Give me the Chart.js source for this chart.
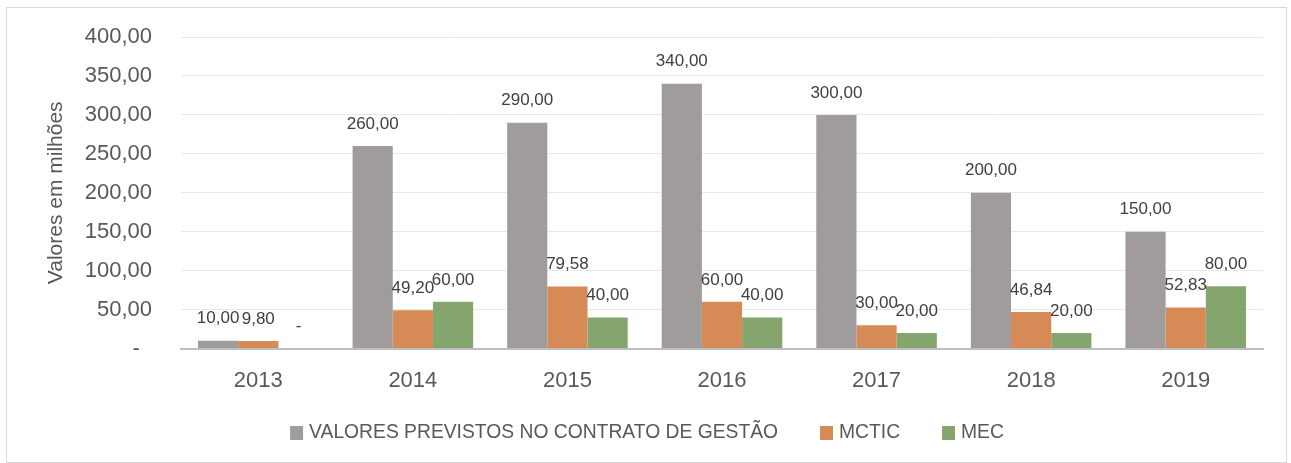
<!DOCTYPE html>
<html>
<head>
<meta charset="utf-8">
<script src="https://cdn.jsdelivr.net/npm/chart.js@4"></script>
<style>
  body { margin: 0; background: #fff; }
  #box {
    position: absolute; left: 6px; top: 7px;
    width: 1281px; height: 456px;
    border: 1px solid #d9d9d9; box-sizing: border-box;
  }
</style>
</head>
<body>
<div id="box"><canvas id="chart" width="1279" height="454"></canvas></div>
<script>
const years = ["2013", "2014", "2015", "2016", "2017", "2018", "2019"];
const previstos = [10, 260, 290, 340, 300, 200, 150];
const mctic = [9.8, 49.2, 79.58, 60, 30, 46.84, 52.83];
const mec = [0, 60, 40, 40, 20, 20, 80];

const FONT = "'Liberation Sans', Arial, sans-serif";
const fmt = (v) => v.toFixed(2).replace(".", ",");

// labels above every bar, excel style
const barLabels = {
  id: "barLabels",
  afterDatasetsDraw(chart) {
    const ctx = chart.ctx;
    ctx.save();
    ctx.font = "17px " + FONT;
    ctx.fillStyle = "#404040";
    ctx.textAlign = "center";
    ctx.textBaseline = "middle";
    chart.data.datasets.forEach((ds, i) => {
      chart.getDatasetMeta(i).data.forEach((bar, j) => {
        const v = ds.data[j];
        const txt = v === 0 ? "-" : fmt(v);
        ctx.fillText(txt, bar.x, bar.y - 22);
      });
    });
    ctx.restore();
  },
};

// legend drawn by hand so the spacing can follow the original
const bottomLegend = {
  id: "bottomLegend",
  afterDraw(chart) {
    const ctx = chart.ctx;
    const y = 425;
    const box = 14;
    const gapText = 6;
    const gapItem = 41;
    ctx.save();
    ctx.font = "19.3px " + FONT;
    ctx.textBaseline = "middle";
    ctx.textAlign = "left";
    const items = chart.data.datasets.map((ds) => ({
      label: ds.label,
      color: ds.backgroundColor,
      w: box + gapText + ctx.measureText(ds.label).width,
    }));
    const total =
      items.reduce((s, it) => s + it.w, 0) + gapItem * (items.length - 1);
    let x = chart.width / 2 + 1 - total / 2;
    items.forEach((it) => {
      ctx.fillStyle = it.color;
      ctx.fillRect(x, y - box / 2, box - 1, box);
      ctx.fillStyle = "#595959";
      ctx.fillText(it.label, x + box + gapText - 1, y);
      x += it.w + gapItem;
    });
    ctx.restore();
  },
};

new Chart(document.getElementById("chart"), {
  type: "bar",
  data: {
    labels: years,
    datasets: [
      {
        label: "VALORES PREVISTOS NO CONTRATO DE GESTÃO",
        data: previstos,
        backgroundColor: "#a09c9b",
      },
      {
        label: "MCTIC",
        data: mctic,
        backgroundColor: "#d68a56",
      },
      {
        label: "MEC",
        data: mec,
        backgroundColor: "#84a66e",
      },
    ],
  },
  options: {
    responsive: false,
    animation: false,
    layout: { padding: { top: 29, right: 23, bottom: 49, left: 0 } },
    datasets: {
      bar: { categoryPercentage: 0.78, barPercentage: 1.0 },
    },
    plugins: {
      tooltip: { enabled: false },
      legend: { display: false },
    },
    scales: {
      x: {
        grid: { display: false, drawTicks: false },
        border: { color: "#bfbfbf", width: 2 },
        ticks: {
          color: "#595959",
          padding: 19,
          font: { family: FONT, size: 22 },
        },
      },
      y: {
        min: 0,
        max: 400,
        afterFit(scale) {
          scale.width = 174;
          // tick padding should not push the plot down
          scale.paddingTop = 0;
          scale.paddingBottom = 0;
        },
        grid: { color: "#e8e8e8", drawTicks: false },
        border: { display: false },
        ticks: {
          stepSize: 50,
          padding: 29,
          color: "#595959",
          font: { family: FONT, size: 22 },
          callback: (v) => (v === 0 ? "-  " : fmt(v)),
        },
        title: {
          display: true,
          text: "Valores em milhões",
          color: "#595959",
          padding: { top: 37, bottom: 0 },
          font: { family: FONT, size: 21 },
        },
      },
    },
  },
  plugins: [barLabels, bottomLegend],
});
</script>
</body>
</html>
